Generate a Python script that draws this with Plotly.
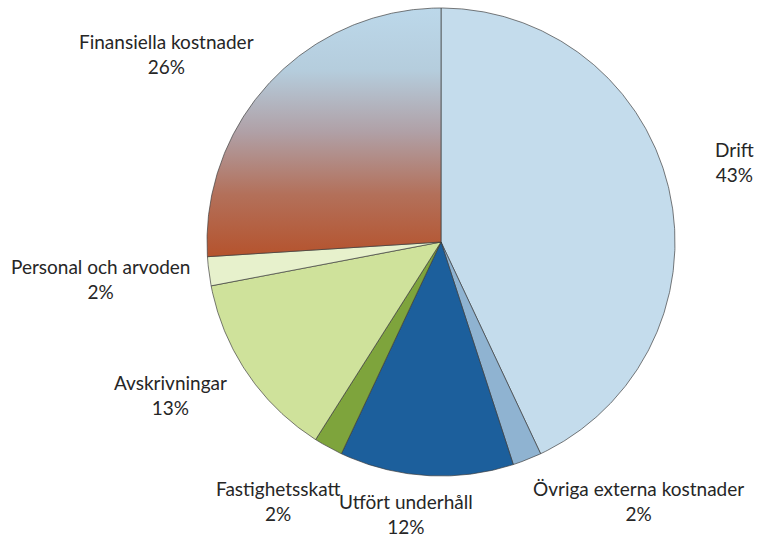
import numpy as np
import plotly.graph_objects as go

# ---- data ----
categories = ["Drift", "Övriga externa kostnader", "Utfört underhåll", "Fastighetsskatt",
              "Avskrivningar", "Personal och arvoden", "Finansiella kostnader"]
values = [43, 2, 12, 2, 13, 2, 26]

# ---- styles ----
colors = ["#c4dcec", "#8fb3d1", "#1c5f9c", "#7ea43c", "#cfe29b", "#e7f1cc", None]
gradient = [[0.0, "#b5532d"], [0.25, "#b3705a"], [0.5, "#b0a0a6"], [0.75, "#b5cddd"], [1.0, "#bcd8ea"]]

# label block centres in radius units (centre of pie = 0,0), layout only
label_pos = {
    "Drift": (1.256, 0.342),
    "Övriga externa kostnader": (0.846, -1.105),
    "Utfört underhåll": (-0.150, -1.162),
    "Fastighetsskatt": (-0.697, -1.107),
    "Avskrivningar": (-1.154, -0.654),
    "Personal och arvoden": (-1.457, -0.160),
    "Finansiella kostnader": (-1.175, 0.803),
}

W, H = 757, 540
cx_px, cy_px, R_px = 441, 242, 234

fig = go.Figure()
total = sum(values)
start = 0.0
for cat, val, col in zip(categories, values, colors):
    frac0 = start / total
    frac1 = (start + val) / total
    start += val
    ang = np.linspace(frac0, frac1, max(int(val * 8), 20)) * 2 * np.pi
    xs = np.concatenate([[0], np.sin(ang), [0]])
    ys = np.concatenate([[0], np.cos(ang), [0]])
    kw = dict(x=xs, y=ys, mode="lines", fill="toself",
              line=dict(color="rgba(60,60,60,0.85)", width=0.8),
              hoverinfo="text", text=f"{cat}: {val}%", showlegend=False)
    if col is None:
        kw["fillgradient"] = dict(type="vertical", colorscale=gradient)
    else:
        kw["fillcolor"] = col
    fig.add_trace(go.Scatter(**kw))

for cat, val in zip(categories, values):
    x, y = label_pos[cat]
    fig.add_annotation(x=x, y=y, text=f"{cat}<br>{val}%", showarrow=False,
                       font=dict(family="Lato", size=19, color="#262626"),
                       align="center", xanchor="center", yanchor="middle")

fig.update_layout(
    width=W, height=H,
    margin=dict(l=0, r=0, t=0, b=0),
    paper_bgcolor="white", plot_bgcolor="white",
    xaxis=dict(range=[-cx_px / R_px, (W - cx_px) / R_px], visible=False, fixedrange=True),
    yaxis=dict(range=[-(H - cy_px) / R_px, cy_px / R_px], visible=False, fixedrange=True),
)
fig.write_html("out.html", config={"displayModeBar": False},
               post_script="document.body.style.margin='0';document.body.style.overflow='hidden';")
